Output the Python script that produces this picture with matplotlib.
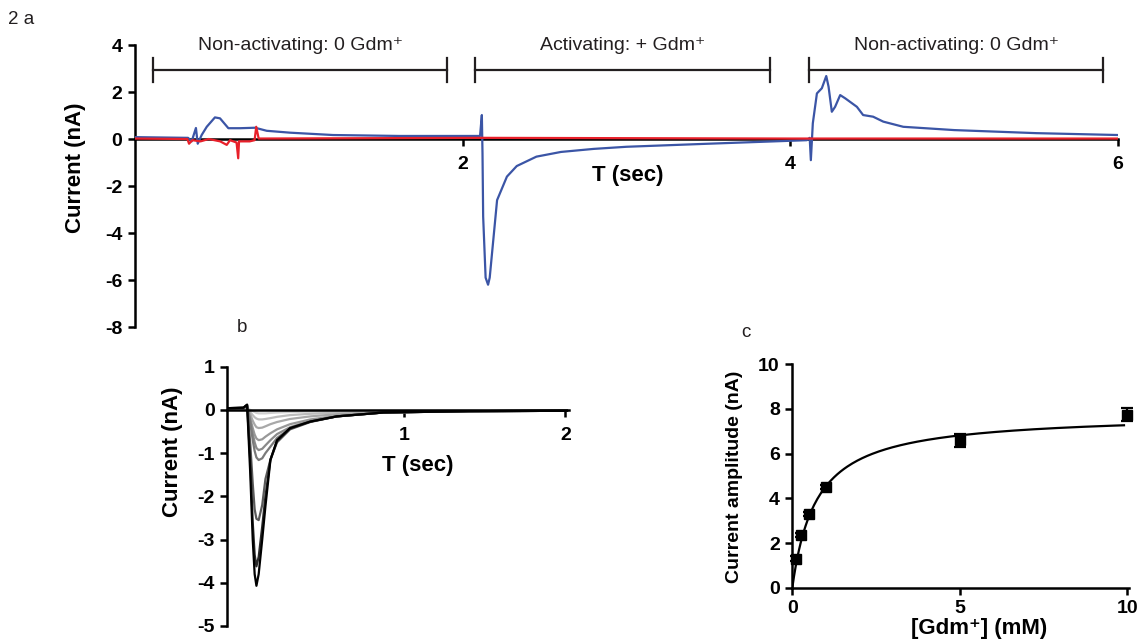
import matplotlib.pyplot as plt
import numpy as np

plt.rcParams['font.family'] = ['Liberation Sans', 'DejaVu Sans']
plt.rcParams['font.weight'] = 'bold'
plt.rcParams['axes.unicode_minus'] = False

# ---- panel a: current trace (knots) ----
blue_t = [0.0, 0.324, 0.346, 0.372, 0.383, 0.407, 0.438, 0.488, 0.519, 0.570, 0.641,
          0.733, 0.804, 0.946, 1.209, 1.618, 2.106, 2.117, 2.121, 2.125, 2.140, 2.155,
          2.165, 2.21, 2.27, 2.33, 2.45, 2.6, 2.8, 3.0, 3.5, 3.9, 4.10, 4.118, 4.125,
          4.137, 4.162, 4.192, 4.219, 4.233, 4.253, 4.273, 4.304, 4.335, 4.406, 4.444,
          4.505, 4.567, 4.689, 5.0, 5.5, 6.0]
blue_i = [0.08, 0.05, -0.1, 0.47, -0.2, 0.17, 0.52, 0.92, 0.88, 0.46, 0.46,
          0.48, 0.35, 0.27, 0.17, 0.13, 0.13, 1.02, -0.6, -3.3, -5.9, -6.2,
          -5.9, -2.6, -1.6, -1.15, -0.75, -0.55, -0.42, -0.33, -0.2, -0.1, -0.05, 0.05, -0.9,
          0.67, 1.94, 2.16, 2.68, 2.23, 1.16, 1.37, 1.87, 1.73, 1.37, 1.02,
          0.95, 0.74, 0.52, 0.38, 0.25, 0.17]
red_t = [0.0, 0.32, 0.33, 0.35, 0.40, 0.45, 0.52, 0.56, 0.58, 0.62, 0.63, 0.635,
         0.70, 0.73, 0.74, 0.755, 2.12, 4.0, 6.0]
red_i = [0.02, 0.0, -0.2, -0.05, -0.1, 0.0, -0.1, -0.25, -0.05, -0.15, -0.82, -0.1,
         -0.1, -0.05, 0.52, 0.02, 0.05, 0.02, 0.02]
bracket_start = [0.108, 2.076, 4.115]
bracket_end = [1.907, 3.877, 5.91]
bracket_text = ['Non-activating: 0 Gdm\u207a', 'Activating: + Gdm\u207a', 'Non-activating: 0 Gdm\u207a']

# ---- panel b: dose series traces (knots) ----
b_t = [-0.1, 0.0, 0.023, 0.043, 0.058, 0.07, 0.081, 0.095, 0.117, 0.137, 0.168,
       0.209, 0.29, 0.416, 0.58, 0.87, 1.4, 2.01]
b_traces = [
    [0.02, 0.03, 0.03, 0.0, -0.03, -0.05, -0.07, -0.08, -0.08, -0.08, -0.07, -0.06, -0.05, -0.04, -0.03, -0.02, -0.02, -0.02],
    [0.02, 0.03, 0.05, -0.05, -0.12, -0.17, -0.2, -0.22, -0.22, -0.21, -0.19, -0.16, -0.12, -0.09, -0.06, -0.03, -0.02, -0.02],
    [0.02, 0.03, 0.06, -0.1, -0.25, -0.34, -0.4, -0.42, -0.41, -0.38, -0.33, -0.28, -0.21, -0.15, -0.1, -0.05, -0.03, -0.02],
    [0.03, 0.04, 0.07, -0.2, -0.42, -0.57, -0.66, -0.7, -0.68, -0.62, -0.54, -0.45, -0.33, -0.22, -0.14, -0.06, -0.03, -0.02],
    [0.03, 0.04, 0.08, -0.25, -0.55, -0.75, -0.88, -0.93, -0.9, -0.82, -0.7, -0.56, -0.4, -0.25, -0.15, -0.06, -0.03, -0.02],
    [0.03, 0.05, 0.1, -0.3, -0.7, -0.95, -1.1, -1.16, -1.12, -1.0, -0.85, -0.65, -0.43, -0.27, -0.15, -0.06, -0.03, -0.02],
    [0.04, 0.05, 0.11, -0.8, -1.7, -2.3, -2.52, -2.55, -2.2, -1.6, -1.15, -0.75, -0.45, -0.28, -0.15, -0.06, -0.03, -0.02],
    [0.04, 0.05, 0.12, -1.2, -2.6, -3.35, -3.62, -3.4, -2.7, -2.0, -1.15, -0.72, -0.43, -0.27, -0.15, -0.06, -0.03, -0.02],
    [0.04, 0.05, 0.12, -1.5, -3.0, -3.8, -4.07, -3.8, -3.0, -2.23, -1.16, -0.7, -0.42, -0.27, -0.15, -0.06, -0.03, -0.02],
]
b_colors = ['#d0d0d0', '#bcbcbc', '#a8a8a8', '#989898', '#8a8a8a', '#7a7a7a', '#5a5a5a', '#2a2a2a', '#000000']

# ---- panel c: dose response ----
gdm_mM = [0.1, 0.25, 0.5, 1.0, 5.0, 10.0]
amp_nA = [1.3, 2.35, 3.3, 4.5, 6.6, 7.75]
amp_err = [0.1, 0.1, 0.1, 0.1, 0.28, 0.28]
fit_vmax = 7.8
fit_kd = 0.72

fig = plt.figure(figsize=(11.41, 6.44), dpi=100)

tick_fs = 14
lab_fs = 16
spine_w = 1.8


def style_axes(ax, pad=4):
    for s in ['top', 'right']:
        ax.spines[s].set_visible(False)
    for s in ['left', 'bottom']:
        ax.spines[s].set_linewidth(spine_w)
    ax.tick_params(width=spine_w, length=5, labelsize=tick_fs, direction='out', pad=pad)
    for lab in ax.get_xticklabels() + ax.get_yticklabels():
        lab.set_fontweight('bold')


# panel a
ax = fig.add_axes([0.1183, 0.4922, 0.8616, 0.4379])
ax.plot(blue_t, blue_i, color='#3b55a6', lw=1.6, zorder=3)
ax.plot(red_t, red_i, color='#e8202a', lw=1.6, zorder=4)
ax.set_xlim(0, 6)
ax.set_ylim(-8, 4)
ax.spines['bottom'].set_position(('data', 0))
ax.set_xticks([2, 4, 6])
ax.set_yticks([4, 2, 0, -2, -4, -6, -8])
style_axes(ax)
ax.tick_params(axis='x', pad=7)
ax.spines['bottom'].set_zorder(2)
ax.set_ylabel('Current (nA)', fontsize=lab_fs, fontweight='bold')
ax.yaxis.set_label_coords(-0.050, 0.566)
ax.text(0.5015, 0.574, 'T (sec)', transform=ax.transAxes, ha='center', va='top',
        fontsize=lab_fs, fontweight='bold')
for x0, x1, txt in zip(bracket_start, bracket_end, bracket_text):
    ax.plot([x0, x1], [2.94, 2.94], color='#231f20', lw=1.6, clip_on=False)
    ax.plot([x0, x0], [2.43, 3.45], color='#231f20', lw=1.6, clip_on=False)
    ax.plot([x1, x1], [2.43, 3.45], color='#231f20', lw=1.6, clip_on=False)
    ax.text((x0 + x1) / 2, 4.0, txt, ha='center', va='center', fontsize=14,
            fontweight='normal', color='#231f20')

# panel b
axb = fig.add_axes([0.1992, 0.028, 0.2991, 0.4026])
for tr, c in zip(b_traces, b_colors):
    axb.plot(b_t, tr, color=c, lw=1.6)
axb.set_xlim(-0.1, 2.02)
axb.set_ylim(-5, 1)
axb.spines['bottom'].set_position(('data', 0))
axb.set_xticks([1, 2])
axb.set_yticks([1, 0, -1, -2, -3, -4, -5])
style_axes(axb)
axb.tick_params(axis='x', pad=7)
axb.set_ylabel('Current (nA)', fontsize=lab_fs, fontweight='bold')
axb.yaxis.set_label_coords(-0.131, 0.671)
axb.text(0.559, 0.659, 'T (sec)', transform=axb.transAxes, ha='center', va='top',
         fontsize=lab_fs, fontweight='bold')

# panel c
axc = fig.add_axes([0.6944, 0.0874, 0.2951, 0.3469])
xs = np.linspace(0, 9.9, 200)
axc.plot(xs, fit_vmax * xs / (fit_kd + xs), color='black', lw=1.6)
axc.errorbar(gdm_mM, amp_nA, yerr=amp_err, fmt='s', color='black', ms=6.5,
             capsize=4, elinewidth=1.6, capthick=1.6, clip_on=False)
axc.set_xlim(0, 10.05)
axc.set_ylim(0, 10)
axc.set_xticks([0, 5, 10])
axc.set_yticks([0, 2, 4, 6, 8, 10])
style_axes(axc)
axc.set_ylabel('Current amplitude (nA)', fontsize=14, fontweight='bold')
axc.yaxis.set_label_coords(-0.146, 0.498)
axc.text(0.554, -0.136, '[Gdm\u207a] (mM)', transform=axc.transAxes, ha='center', va='top',
         fontsize=lab_fs, fontweight='bold')

# panel letters
fig.text(8 / 1141, 1 - 20 / 644, '2 a', fontsize=13.5, fontweight='normal', va='center', color='#231f20')
fig.text(237 / 1141, 1 - 327 / 644, 'b', fontsize=13.5, fontweight='normal', va='center', color='#231f20')
fig.text(741 / 1141, 1 - 333 / 644, 'c', fontsize=13.5, fontweight='normal', va='center', color='#231f20')

fig.savefig('out.png', dpi=100)
